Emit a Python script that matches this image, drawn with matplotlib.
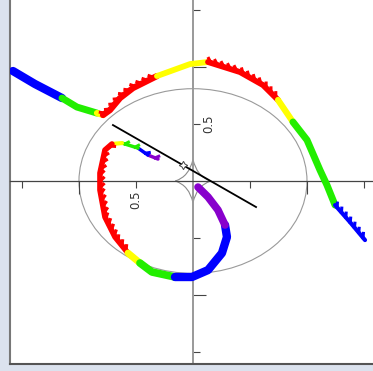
import numpy as np
import matplotlib
matplotlib.use('Agg')
from matplotlib import pyplot as plt
from matplotlib import patheffects
from matplotlib.patches import Ellipse, PathPatch
from matplotlib.path import Path
from matplotlib.ticker import FuncFormatter, NullFormatter

# outer curve, x axis runs right-to-left
outer_x = [1.579, 1.386, 1.149, 1.018, 0.842, 0.789, 0.728, 0.640, 0.526, 0.316, 0.026,
           -0.132, -0.412, -0.614, -0.746, -0.877, -1.0, -1.114, -1.175, -1.246, -1.377, -1.509]
outer_y = [0.965, 0.851, 0.728, 0.649, 0.596, 0.579, 0.623, 0.728, 0.816, 0.921, 1.026,
           1.044, 0.956, 0.842, 0.711, 0.518, 0.360, 0.096, -0.035, -0.211, -0.360, -0.518]
outer_breaks = [0, 2, 4, 5, 9, 11, 14, 15, 19, 21]
outer_colors = ['#0000ff', '#22ee00', '#ffff00', '#ff0000', '#ffff00', '#ff0000', '#ffff00', '#22ee00', '#0000ff']
outer_widths = [6.0, 5.0, 4.5, 4.5, 4.2, 4.2, 4.5, 5.0, 3.0]
outer_spikes = [0, 0, 0, 1, 0, 1, 0, 0, 1]

# inner curve
inner_x = [0.307, 0.395, 0.482, 0.623, 0.711, 0.772, 0.816, 0.816, 0.772, 0.684, 0.570,
           0.465, 0.360, 0.158, 0.009, -0.132, -0.254, -0.298, -0.281, -0.219, -0.132, -0.044]
inner_y = [0.193, 0.228, 0.289, 0.333, 0.325, 0.272, 0.070, -0.079, -0.316, -0.491, -0.632,
           -0.719, -0.798, -0.842, -0.842, -0.781, -0.632, -0.491, -0.386, -0.254, -0.140, -0.053]
inner_breaks = [0, 1, 2, 3, 4, 10, 11, 13, 18, 21]
inner_colors = ['#8800cc', '#0000ff', '#22ee00', '#ffff00', '#ff0000', '#ffff00', '#22ee00', '#0000ff', '#8800cc']
inner_widths = [2.5, 2.5, 2.5, 3.0, 4.0, 5.0, 5.5, 6.0, 5.5]
inner_spikes = [-1, -1, -1, 0, 1, 0, 0, 0, 0]

# black segment and its marker
line_x = [0.702, -0.553]
line_y = [0.491, -0.228]
mark_x = [0.088]
mark_y = [0.140]

# ellipse and small astroid (cusps)
ell_w, ell_h = 2.0, 1.62
ast_a, ast_b = 0.155, 0.19

major_ticks = [-1.0, 1.0]
minor_ticks = [-1.5, -0.5, 0.5, 1.5]
labelled = [0.5]

fig = plt.figure(figsize=(3.73, 3.71), dpi=100, facecolor='#dbe2ee')
ax = fig.add_axes([10/373, 7/371, 363/373, 364/371])
ax.set_xlim(1.605, -1.579)
ax.set_ylim(-1.605, 1.588)

ax.add_patch(Ellipse((0, 0), ell_w, ell_h, fill=False, ec='#9a9a9a', lw=0.8, zorder=1))

# astroid as four concave quadratic arcs between the cusps
k = 0.21
verts = [(ast_a, 0), (k * ast_a, k * ast_b), (0, ast_b), (-k * ast_a, k * ast_b), (-ast_a, 0),
         (-k * ast_a, -k * ast_b), (0, -ast_b), (k * ast_a, -k * ast_b), (ast_a, 0)]
codes = [Path.MOVETO] + [Path.CURVE3] * 8
ax.add_patch(PathPatch(Path(verts, codes), fill=False, ec='#8a8a8a', lw=0.8, zorder=1))


def draw_segments(xs, ys, breaks, colors, widths, spikes):
    for i in range(len(colors)):
        sx = xs[breaks[i]:breaks[i + 1] + 1]
        sy = ys[breaks[i]:breaks[i + 1] + 1]
        ax.plot(sx, sy, color=colors[i], lw=widths[i], solid_capstyle='round',
                solid_joinstyle='round', zorder=3)
        if spikes[i]:
            sp = 4.5
            ax.plot(sx, sy, color=colors[i], lw=2.2, zorder=3,
                    path_effects=[patheffects.TickedStroke(spacing=sp, length=(widths[i] / 2 + 1.6) / sp,
                                                           angle=135 * spikes[i])])


draw_segments(outer_x, outer_y, outer_breaks, outer_colors, outer_widths, outer_spikes)
draw_segments(inner_x, inner_y, inner_breaks, inner_colors, inner_widths, inner_spikes)

ax.plot(line_x, line_y, color='black', lw=1.3, zorder=4)
ax.plot(mark_x, mark_y, ls='none', marker=(4, 1, 0), ms=6, mfc='white', mec='#444', mew=0.7, zorder=5)

# axes through the origin, frame on left and bottom
ax.spines['bottom'].set_position(('data', 0))
ax.spines['bottom'].set_color('#444444')
ax.spines['bottom'].set_linewidth(0.9)
ax.spines['right'].set_position(('data', 0))
ax.spines['right'].set_color('#999999')
ax.spines['right'].set_linewidth(1.4)
ax.spines['top'].set_position(('axes', 0))
ax.spines['top'].set_color('#555555')
ax.spines['top'].set_linewidth(1.5)
ax.spines['left'].set_color('#777777')
ax.spines['left'].set_linewidth(1.5)

ax.xaxis.set_ticks_position('bottom')
ax.yaxis.set_ticks_position('right')
ax.set_xticks(major_ticks)
ax.set_xticks(minor_ticks, minor=True)
ax.set_yticks(major_ticks)
ax.set_yticks(minor_ticks, minor=True)

fmt = FuncFormatter(lambda v, p: f'{v:g}' if any(abs(v - l) < 1e-9 for l in labelled) else '')
for axis in (ax.xaxis, ax.yaxis):
    axis.set_major_formatter(NullFormatter())
    axis.set_minor_formatter(fmt)

ax.tick_params(which='major', length=9, width=0.8, color='#444444', direction='out')
ax.tick_params(which='minor', length=5, width=0.8, color='#444444', direction='out',
               labelsize=8.5, labelcolor='#333333', labelrotation=90)
ax.tick_params(axis='x', which='minor', pad=1.5)
ax.tick_params(axis='y', which='minor', pad=1.5)
for lab in ax.yaxis.get_minorticklabels():
    lab.set_verticalalignment('center')

fig.savefig('out.png', dpi=100, facecolor=fig.get_facecolor())
plt.close('all')
